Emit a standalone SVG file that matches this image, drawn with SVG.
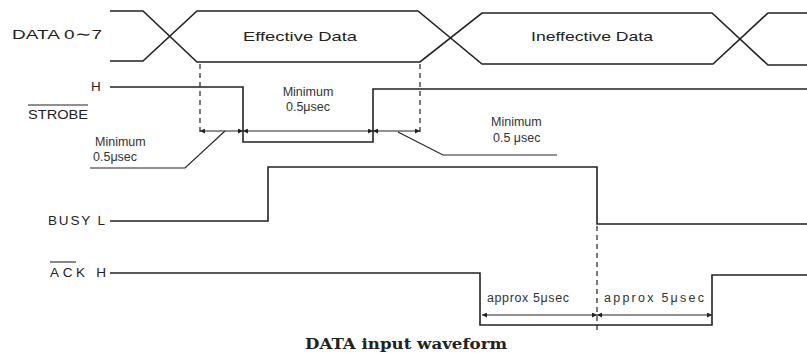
<svg xmlns="http://www.w3.org/2000/svg" width="807" height="353" viewBox="0 0 807 353">
<defs>
<style>
.w{fill:none;stroke:#222;stroke-width:1.6}
.d{fill:none;stroke:#222;stroke-width:1.2;stroke-dasharray:5,4}
.t{fill:none;stroke:#222;stroke-width:1.1}
.lb{font-family:"Liberation Sans",Arial,sans-serif;font-size:13.5px;fill:#222}
.sm{font-family:"Liberation Sans",Arial,sans-serif;font-size:12.5px;fill:#333}
.cap{font-family:"DejaVu Serif","Liberation Serif",serif;font-size:14px;font-weight:bold;fill:#222}
</style>
<marker id="ar" viewBox="0 0 10 10" refX="10" refY="5" markerWidth="7" markerHeight="5" orient="auto-start-reverse" markerUnits="userSpaceOnUse">
<path d="M0,0 L10,5 L0,10 z" fill="#222"/>
</marker>
</defs>
<rect width="807" height="353" fill="#fff"/>

<g id="data">
<path class="w" d="M110,11 H143 L197,62 H420 L482,13 H712 L768,65 H807 M110,61 H143 L197,11 H418 L482,64 H713 L768,13 H807"/>
<text class="lb" x="12" y="39" textLength="90" lengthAdjust="spacingAndGlyphs">DATA  0∼7</text>
<text class="lb" x="243" y="41" textLength="114" lengthAdjust="spacingAndGlyphs">Effective Data</text>
<text class="lb" x="531" y="41" textLength="122" lengthAdjust="spacingAndGlyphs">Ineffective Data</text>
</g>

<g id="strobe">
<path class="w" d="M110,87 H243 V142 H373 V89 H807"/>
<text class="lb" x="91" y="91">H</text>
<text class="lb" x="28" y="119" textLength="60" lengthAdjust="spacingAndGlyphs">STROBE</text>
<line class="t" x1="28" y1="105" x2="88" y2="105"/>
</g>

<g id="busy">
<path class="w" d="M110,221 H268 V167 H597 V224 H807"/>
<text class="lb" x="48" y="225" textLength="57" lengthAdjust="spacing">BUSY  L</text>
</g>

<g id="ack">
<path class="w" d="M110,273 H480 V325 H712 V275 H807"/>
<text class="lb" x="50" y="277" textLength="56" lengthAdjust="spacing">ACK  H</text>
<line class="t" x1="50" y1="262" x2="76" y2="262"/>
</g>

<g id="connectors">
<line class="d" x1="200" y1="64" x2="200" y2="132"/>
<line class="d" x1="420" y1="64" x2="420" y2="136"/>
<line class="d" x1="597" y1="226" x2="597" y2="330"/>
<line class="t" x1="200" y1="131" x2="243" y2="131" marker-start="url(#ar)" marker-end="url(#ar)"/>
<line class="t" x1="243" y1="131" x2="373" y2="131" marker-start="url(#ar)" marker-end="url(#ar)"/>
<line class="t" x1="373" y1="131" x2="420" y2="131" marker-start="url(#ar)" marker-end="url(#ar)"/>
<polyline class="t" points="90,168 185,168 225,131"/>
<polyline class="t" points="398,132 443,155 557,155"/>
<line class="t" x1="482" y1="315" x2="597" y2="315" marker-start="url(#ar)" marker-end="url(#ar)"/>
<line class="t" x1="597" y1="315" x2="712" y2="315" marker-start="url(#ar)" marker-end="url(#ar)"/>
</g>

<g id="labels">
<text class="sm" x="95" y="146">Minimum</text>
<text class="sm" x="93" y="161">0.5μsec</text>
<text class="sm" x="308" y="96" text-anchor="middle">Minimum</text>
<text class="sm" x="308" y="111" text-anchor="middle">0.5μsec</text>
<text class="sm" x="491" y="126">Minimum</text>
<text class="sm" x="493" y="142">0.5 μsec</text>
<text class="sm" x="487" y="302" textLength="82" lengthAdjust="spacing">approx 5μsec</text>
<text class="sm" x="604" y="302" textLength="100" lengthAdjust="spacing">approx 5μsec</text>
<text class="cap" x="406" y="349" text-anchor="middle" textLength="202" lengthAdjust="spacingAndGlyphs">DATA input waveform</text>
</g>
</svg>
